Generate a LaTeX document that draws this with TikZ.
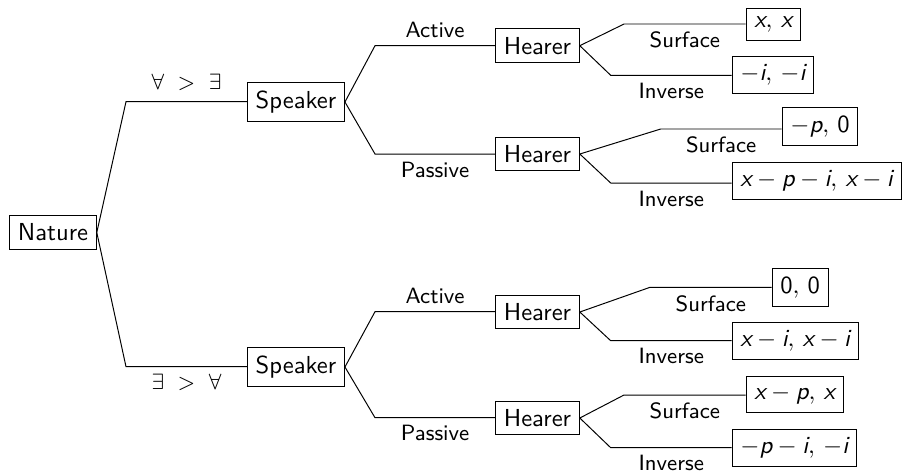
\documentclass[tikz,border=0pt]{standalone}
\newcommand{\mvar}[1]{\textsf{\itshape #1}}
\newcommand{\mzero}{\textsf{0}}
\newcommand{\cm}{,\,}
\newcommand{\quant}[3]{$#1$\hspace{5.5pt}$#2$\hspace{5.5pt}$#3$}
\begin{document}
\begin{tikzpicture}[x=0.4065pt,y=-0.4065pt,font=\sffamily,
  player/.style={draw,inner sep=0.3333em},
  payoff/.style={draw,anchor=west,inner sep=0.3333em},
  branch/.style={font=\sffamily\small,midway,inner sep=0pt},
  up/.style={above=3pt},
  down/.style={below=3pt},
  edge/.style={line width=0.4pt}]
\useasboundingbox (0,0) rectangle (907,472);
% players
\node[player] (n)  at (53,232.5) {Nature};
\node[player] (s1) at (296,102) {Speaker};
\node[player] (s2) at (296,367) {Speaker};
\node[player] (h1) at (537.5,45.7) {Hearer};
\node[player] (h2) at (537.5,154) {Hearer};
\node[player] (h3) at (537.5,312) {Hearer};
\node[player] (h4) at (537.5,418) {Hearer};
% payoffs
\node[payoff] (t1) at (745.7,24.2) {$\mvar{x}\cm\mvar{x}$};
\node[payoff] (t2) at (731.7,75.2) {$-\mvar{i}\cm-\mvar{i}$};
\node[payoff] (t3) at (781.7,126.3) {$-\mvar{p}\cm\mzero$};
\node[payoff] (t4) at (731.7,181) {$\mvar{x}-\mvar{p}-\mvar{i}\cm\mvar{x}-\mvar{i}$};
\node[payoff] (t5) at (771.7,287.5) {$\mzero\cm\mzero$};
\node[payoff] (t6) at (731.7,341.3) {$\mvar{x}-\mvar{i}\cm\mvar{x}-\mvar{i}$};
\node[payoff] (t7) at (745.7,394.5) {$\mvar{x}-\mvar{p}\cm\mvar{x}$};
\node[payoff] (t8) at (731.7,448) {$-\mvar{p}-\mvar{i}\cm-\mvar{i}$};
% elbow points
\coordinate (e1) at (126,101.7);
\coordinate (e2) at (126,366.7);
\coordinate (e3) at (375,45.7);
\coordinate (e4) at (375,154);
\coordinate (e5) at (375,311.7);
\coordinate (e6) at (375,417.7);
\coordinate (f1) at (624,24);
\coordinate (f2) at (610.7,75.3);
\coordinate (f3) at (660.7,129);
\coordinate (f4) at (610.7,183);
\coordinate (f5) at (650,287.3);
\coordinate (f6) at (610.7,340.7);
\coordinate (f7) at (624,395);
\coordinate (f8) at (610.7,447.7);
% edges
\draw[edge] (n.east) -- (e1) -- (e1 -| s1.west) node[branch,above=4.5pt] {\quant{\forall}{>}{\exists}};
\draw[edge] (n.east) -- (e2) -- (e2 -| s2.west) node[branch,down] {\quant{\exists}{>}{\forall}};
\draw[edge] (s1.east) -- (e3) -- (e3 -| h1.west) node[branch,up] {Active};
\draw[edge] (s1.east) -- (e4) -- (e4 -| h2.west) node[branch,down] {Passive};
\draw[edge] (s2.east) -- (e5) -- (e5 -| h3.west) node[branch,up] {Active};
\draw[edge] (s2.east) -- (e6) -- (e6 -| h4.west) node[branch,down] {Passive};
\draw[edge] (h1.east) -- (f1) -- (f1 -| t1.west) node[branch,down] {Surface};
\draw[edge] (h1.east) -- (f2) -- (f2 -| t2.west) node[branch,down] {Inverse};
\draw[edge] (h2.east) -- (f3) -- (f3 -| t3.west) node[branch,down] {Surface};
\draw[edge] (h2.east) -- (f4) -- (f4 -| t4.west) node[branch,down] {Inverse};
\draw[edge] (h3.east) -- (f5) -- (f5 -| t5.west) node[branch,down] {Surface};
\draw[edge] (h3.east) -- (f6) -- (f6 -| t6.west) node[branch,down] {Inverse};
\draw[edge] (h4.east) -- (f7) -- (f7 -| t7.west) node[branch,down] {Surface};
\draw[edge] (h4.east) -- (f8) -- (f8 -| t8.west) node[branch,down] {Inverse};
\end{tikzpicture}
\end{document}
